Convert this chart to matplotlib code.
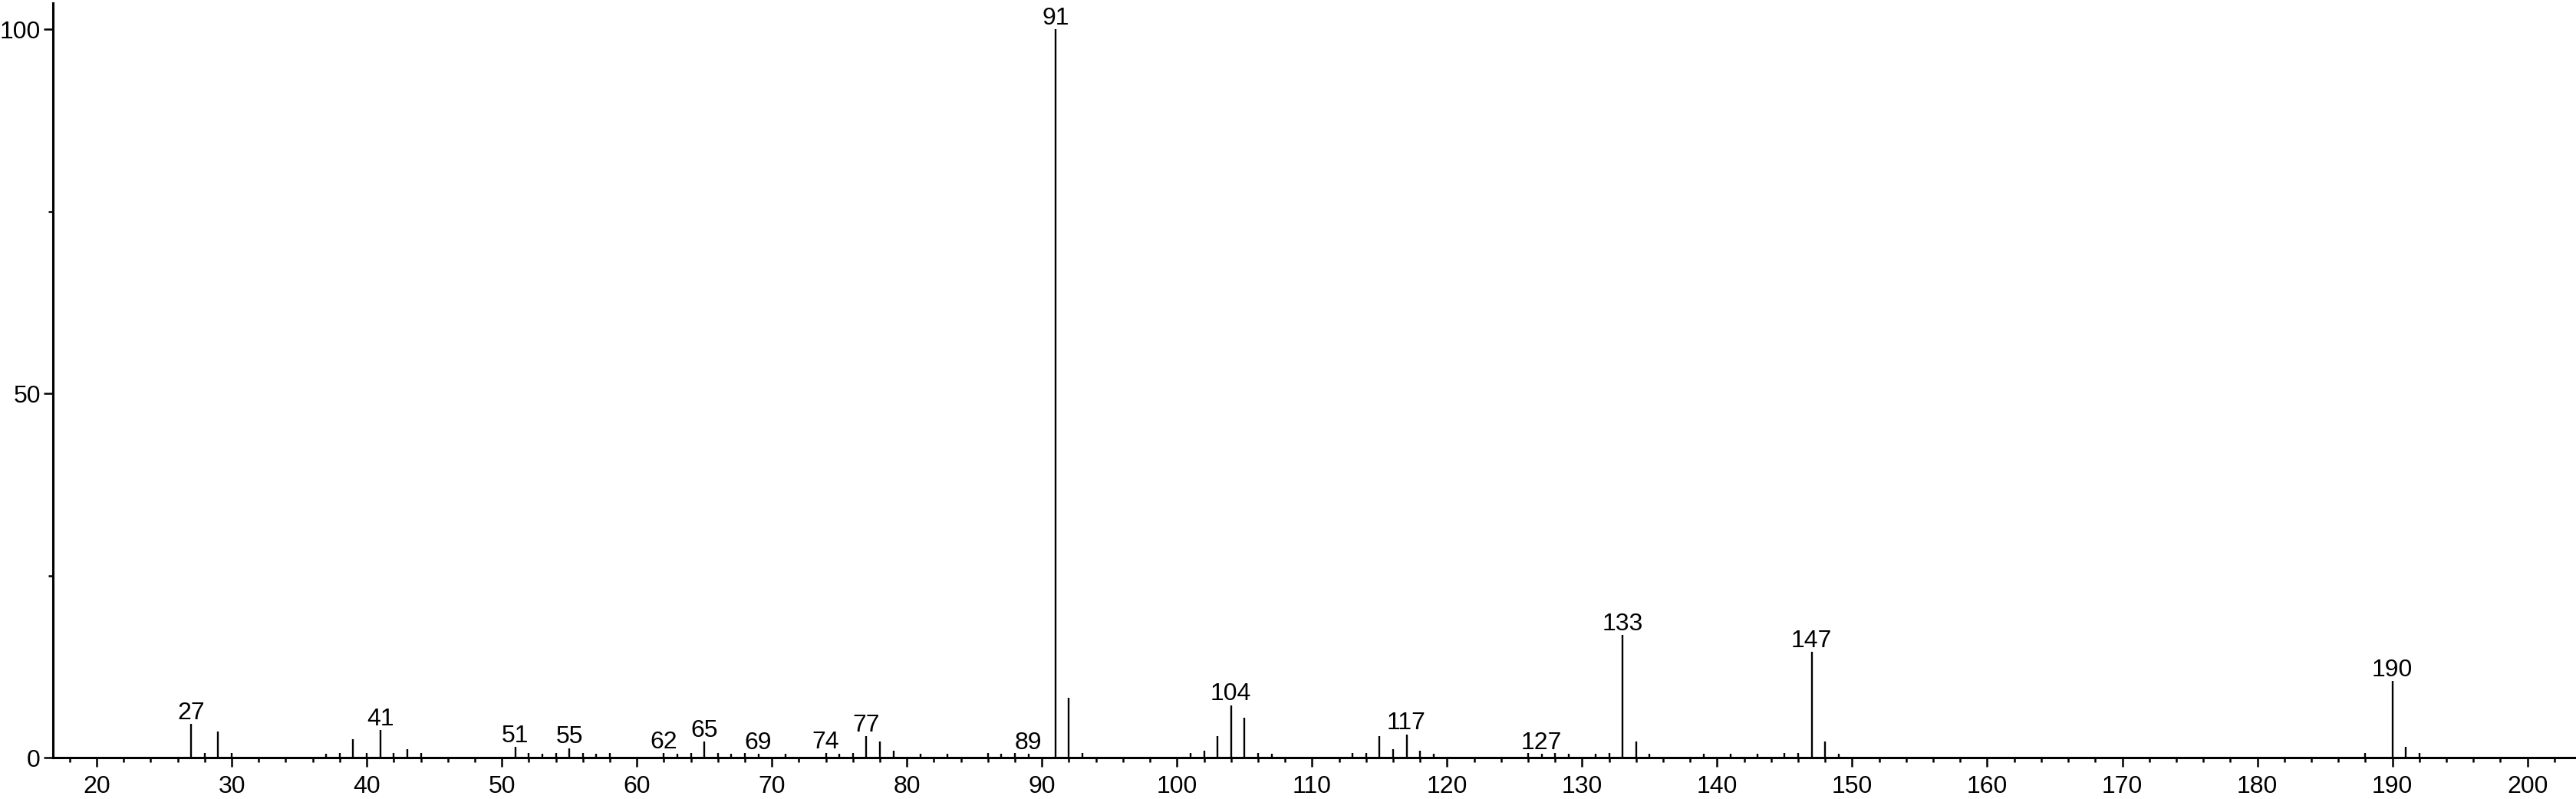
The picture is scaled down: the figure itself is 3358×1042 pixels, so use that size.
import matplotlib
matplotlib.use("Agg")
import matplotlib.pyplot as plt
from matplotlib.ticker import MultipleLocator, FixedLocator

# mass spectrum: m/z and relative intensity (%)
mz = [27, 28, 29, 30, 37, 38, 39, 40, 41, 42, 43, 44,
      51, 52, 53, 54, 55, 56, 57, 58,
      62, 63, 64, 65, 66, 67, 68, 69, 71, 74, 75, 76, 77, 78, 79,
      81, 83, 86, 87, 88, 89,
      91, 92, 93, 101, 102, 103, 104, 105, 106, 107,
      113, 114, 115, 116, 117, 118, 119,
      126, 127, 128, 129, 131, 132, 133, 134, 135,
      139, 141, 143, 145, 146, 147, 148, 149,
      188, 190, 191, 192]
intensity = [4.6, 0.6, 3.6, 0.6, 0.5, 0.6, 2.5, 0.6, 3.8, 0.6, 1.2, 0.6,
             1.5, 0.6, 0.5, 0.6, 1.3, 0.6, 0.5, 0.6,
             0.6, 0.5, 0.6, 2.2, 0.6, 0.5, 0.6, 0.5, 0.5, 0.6, 0.5, 0.6, 2.9, 2.2, 0.9,
             0.5, 0.5, 0.6, 0.5, 0.6, 0.5,
             100.0, 8.2, 0.6, 0.6, 1.0, 2.9, 7.2, 5.5, 0.6, 0.5,
             0.6, 0.6, 2.9, 1.2, 3.2, 0.9, 0.5,
             0.6, 0.5, 0.6, 0.5, 0.5, 0.6, 16.8, 2.2, 0.5,
             0.5, 0.5, 0.5, 0.6, 0.6, 14.5, 2.2, 0.5,
             0.6, 10.5, 1.5, 0.6]
labelled = [27, 41, 51, 55, 62, 65, 69, 74, 77, 89, 91, 104, 117, 127, 133, 147, 190]

plt.rcParams["font.family"] = ["Liberation Sans", "DejaVu Sans"]

fig = plt.figure(figsize=(33.58, 10.42), dpi=100)
ax = fig.add_axes([69 / 3358, 54 / 1042, 1 - 69 / 3358, 984 / 1042])

ax.vlines(mz, 0, intensity, color="black", linewidth=1.7)

for m, v in zip(mz, intensity):
    if m in labelled:
        ax.annotate(str(m), xy=(m, v), xytext=(0, 4.5), textcoords="offset points",
                    ha="center", va="baseline", fontsize=23)

ax.set_xlim(16.76, 203.6)
ax.set_ylim(0, 103.6)

ax.xaxis.set_major_locator(MultipleLocator(10))
ax.xaxis.set_minor_locator(MultipleLocator(2))
ax.yaxis.set_major_locator(FixedLocator([0, 50, 100]))
ax.yaxis.set_minor_locator(FixedLocator([25, 75]))

for side in ["top", "right"]:
    ax.spines[side].set_visible(False)
for side in ["left", "bottom"]:
    ax.spines[side].set_linewidth(2.2)

ax.tick_params(axis="x", which="major", direction="out", length=8.6, width=1.8,
               pad=8, labelsize=23)
ax.tick_params(axis="x", which="minor", direction="out", length=4.3, width=1.8)
ax.tick_params(axis="y", which="major", direction="out", length=8.6, width=1.8,
               pad=3, labelsize=23)
ax.tick_params(axis="y", which="minor", direction="out", length=4.3, width=1.8)

fig.savefig("out.png", dpi=100)
